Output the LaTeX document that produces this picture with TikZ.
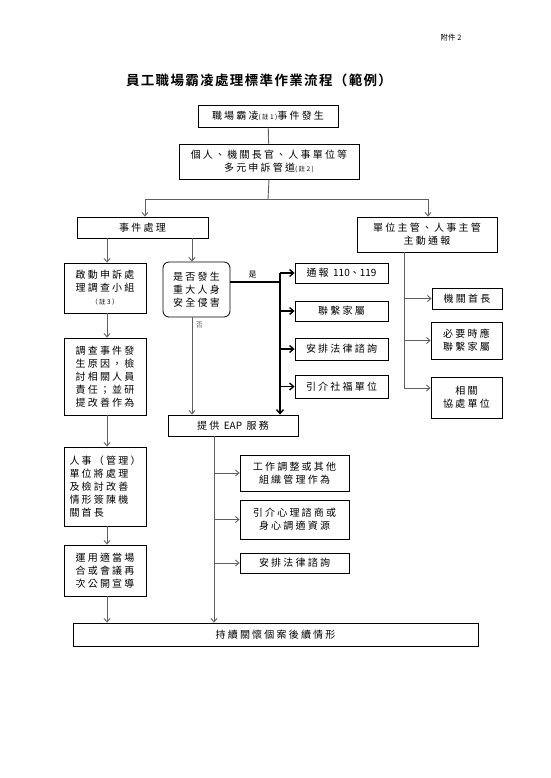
\documentclass[tikz,border=0pt]{standalone}
\usepackage{fontspec}
\setmainfont{Noto Sans CJK TC}
\newfontfamily\boxfont[LetterSpace=22]{Noto Sans CJK TC}
\newfontfamily\plainfont{Noto Sans CJK TC}
\newfontfamily\titlefont[LetterSpace=10]{Noto Sans CJK TC Bold}
\usetikzlibrary{arrows.meta, positioning}
\definecolor{linegray}{RGB}{95,95,95}
\newcommand{\notesize}{\fontsize{6.5}{8}\selectfont}
\newcommand{\latin}[1]{{\plainfont #1}}

\begin{document}
\begin{tikzpicture}[x=1pt, y=-1pt,
	box/.style 2 args={draw, line width=0.8pt, minimum width=#1, minimum height=#2,
		inner sep=1pt, align=center, font=\boxfont\fontsize{10}{13}\selectfont},
	link/.style={draw=linegray, line width=0.9pt, -{Straight Barb[length=3.5pt, width=6pt]}},
	bus/.style={draw=black, line width=1.4pt, -{Straight Barb[length=4pt, width=7pt]}}]
	
	% Pagina
	\useasboundingbox (0,0) rectangle (550,778);
	\node[font=\fontsize{7.5}{9}\selectfont] (annex) at (451,38) {附件 2};
	\node[font=\titlefont\fontsize{13.5}{15}\selectfont] (title) at (259,80) {員工職場霸凌處理標準作業流程（範例）};
	
	% Avvio
	\node[box={140pt}{22pt}] (onset) at (268,116) {職場霸凌{\notesize(註1)}事件發生};
	\node[box={180pt}{35pt}] (channels) at (269,161.5) {個人、機關長官、人事單位等\\多元申訴管道{\notesize(註2)}};
	\node[box={131pt}{21pt}] (handle) at (142.5,227.5) {事件處理};
	\node[box={140pt}{35pt}] (report) at (427,234.5) {單位主管、人事主管\\主動通報};
	
	% Colonna sinistra
	\node[box={82pt}{50pt}] (probe) at (105,288) {啟動申訴處\\理調查小組\\{\notesize（註3）}};
	\node[box={82pt}{77pt}, align=left] (inquiry) at (105,376.5) {調查事件發\\生原因，檢\\討相關人員\\責任；並研\\提改善作為};
	\node[box={82pt}{79pt}, align=left] (submit) at (105,486.5) {人事（管理）\\單位將處理\\及檢討改善\\情形簽陳機\\關首長};
	\node[box={82pt}{51pt}, align=left] (promote) at (105,570.5) {運用適當場\\合或會議再\\次公開宣導};
	
	% Decisione
	\node[box={67pt}{55pt}, rounded corners=6pt] (danger) at (196.5,289.5) {是否發生\\重大人身\\安全侵害};
	\node[box={93pt}{20pt}] (police) at (341.5,273) {通報 \latin{110、119}};
	\node[box={93pt}{20pt}] (kin) at (341.5,311) {聯繫家屬};
	\node[box={93pt}{22pt}] (legal) at (341.5,349) {安排法律諮詢};
	\node[box={93pt}{23pt}] (welfare) at (341.5,386.5) {引介社福單位};
	
	% Colonna destra
	\node[box={70pt}{21pt}] (chief) at (467,298.5) {機關首長};
	\node[box={71pt}{37pt}] (kinnote) at (466.5,340.5) {必要時應\\聯繫家屬};
	\node[box={71pt}{41pt}] (assist) at (466.5,397.5) {相關\\協處單位};
	
	% Servizi EAP
	\node[box={130pt}{21pt}] (eap) at (233,425.5) {提供 \latin{EAP} 服務};
	\node[box={109pt}{36pt}] (adjust) at (294.5,473) {工作調整或其他\\組織管理作為};
	\node[box={109pt}{39pt}] (counsel) at (294.5,519.5) {引介心理諮商或\\身心調適資源};
	\node[box={109pt}{20pt}] (legaltwo) at (294.5,563) {安排法律諮詢};
	\node[box={405pt}{23pt}] (care) at (275.5,634.5) {持續關懷個案後續情形};
	
	% Punti di snodo
	\coordinate (split) at (268,199);
	\coordinate (hub) at (280,273);
	\coordinate (rtrunk) at (404,252);
	\coordinate (etrunk) at (214,436);
	
	% Collegamenti in alto
	\draw[draw=linegray, line width=0.9pt] (onset) -- (channels);
	\draw[draw=linegray, line width=0.9pt] (channels.south) -- (split);
	\draw[link] (split) -| (handle.north -| 145,0);
	\draw[link] (split) -| (report.north -| 428,0);
	
	% Collegamenti a sinistra
	\draw[link] (handle.south -| 107,0) -- (probe.north -| 107,0);
	\draw[link] (probe.south -| 107,0) -- (inquiry.north -| 107,0);
	\draw[link] (inquiry.south -| 107,0) -- (submit.north -| 107,0);
	\draw[link] (submit.south -| 107,0) -- (promote.north -| 107,0);
	\draw[link] (promote.south -| 107,0) -- (care.north -| 107,0);
	\draw[link] (handle.south -| 192,0) -- (danger.north -| 192,0);
	
	% Ramo si / no
	\draw[link] (danger.south -| 192,0) -- (eap.north -| 192,0)
		node[pos=0.08, right, font=\fontsize{7}{8}\selectfont, text=linegray] (nolabel) {否};
	\draw[line width=1.4pt] (danger.east |- 0,282) -- (hub |- 0,282)
		node[pos=0.45, above, font=\fontsize{8}{9}\selectfont] (yeslabel) {是};
	\draw[bus] (hub) -- (hub |- eap.north);
	\foreach \target in {police, kin, legal, welfare}
		\draw[bus] (hub |- \target) -- (\target);
	
	% Ramo destro
	\draw[draw=linegray, line width=0.9pt] (report.south -| rtrunk) -- (rtrunk |- 0,388);
	\draw[link] (rtrunk |- chief) -- (chief);
	\draw[link] (rtrunk |- kinnote) -- (kinnote);
	\draw[link] (rtrunk |- 0,388) -- (assist.west |- 0,388);
	
	% Ramo EAP
	\draw[link] (etrunk) -- (etrunk |- care.north);
	\foreach \target in {adjust, counsel, legaltwo}
		\draw[link] (etrunk |- \target) -- (\target);
	
\end{tikzpicture}
\end{document}
